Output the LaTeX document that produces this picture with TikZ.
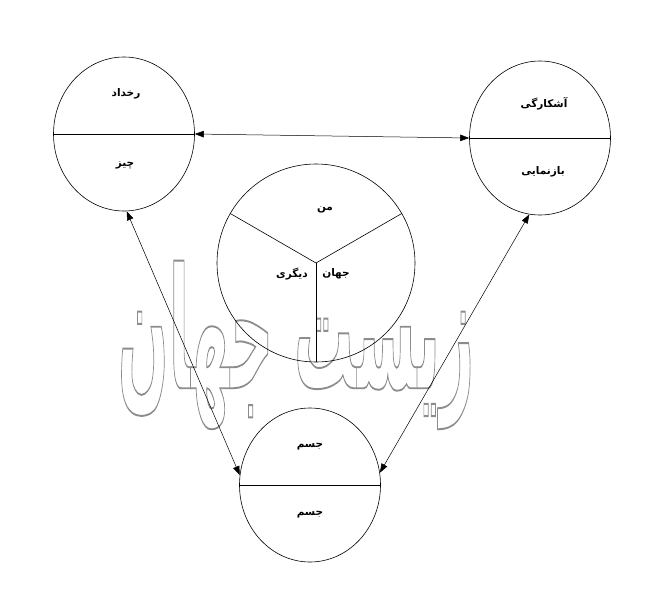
\documentclass[tikz,border=0pt]{standalone}
\usepackage{fontspec}
\usetikzlibrary{shapes.geometric,arrows.meta}
\newfontfamily\farsi[Script=Arabic]{DejaVu Sans}
\TeXXeTstate=1
\newcommand{\fa}[1]{\farsi\beginR #1\endR}
% hollow letters for the watermark
\newcommand{\hollow}[1]{\special{pdf:literal direct 2 Tr 1.1 w 0.55 G 1 g}#1\special{pdf:literal direct 0 Tr 0 G 0 g}}

\tikzset{
  part/.style={ellipse, draw, line width=0.6pt, minimum width=141pt, minimum height=154pt, inner sep=0pt},
  word/.style={font=\fontsize{10.5}{12}\selectfont\bfseries},
  link/.style={line width=0.5pt, {Triangle[length=9pt,width=6.5pt]}-{Triangle[length=9pt,width=6.5pt]}},
  split/.style={line width=0.6pt}
}

\begin{document}
\begin{tikzpicture}[x=1pt,y=-1pt]
\useasboundingbox (0,0) rectangle (664,600);

% watermark behind everything
\node[font=\fontsize{96}{96}\selectfont\bfseries, xscale=0.62, yscale=1.75, transform shape, inner sep=0pt] (mark) at (296,345) {\hollow{\fa{زیست جهان}}};

% top left: event / thing
\node[part] (rokh) at (124,134) {};
\draw[split] (rokh.west) -- (rokh.east);
\node[word] (rokhup) at (126,94) {\fa{رخداد}};
\node[word] (rokhdown) at (125,165) {\fa{چیز}};

% top right: disclosure / representation
\node[part] (ashk) at (540,138) {};
\draw[split] (ashk.west) -- (ashk.east);
\node[word] (ashkup) at (544,104) {\fa{آشکارگی}};
\node[word] (ashkdown) at (543,172) {\fa{بازنمایی}};

% centre: me, world, other
\node[circle, draw, line width=0.6pt, minimum size=198pt, inner sep=0pt] (man) at (316,263) {};
\draw[split] (man.center) -- (man.150);
\draw[split] (man.center) -- (man.30);
\draw[split] (man.center) -- (man.270);
\node[word] (manup) at (325,210) {\fa{من}};
\node[word] (jahan) at (336,274) {\fa{جهان}};
\node[word] (digari) at (292,274) {\fa{دیگری}};

% bottom: body
\node[part] (jesm) at (310,485) {};
\draw[split] (jesm.west) -- (jesm.east);
\node[word] (jesmup) at (310,447) {\fa{جسم}};
\node[word] (jesmdown) at (310,515) {\fa{جسم}};

% connectors
\draw[link] (rokh.east) -- (ashk.west);
\draw[link] (rokh.272) -- (jesm.172);
\draw[link] (ashk.262) -- (jesm.10);
\end{tikzpicture}
\end{document}
